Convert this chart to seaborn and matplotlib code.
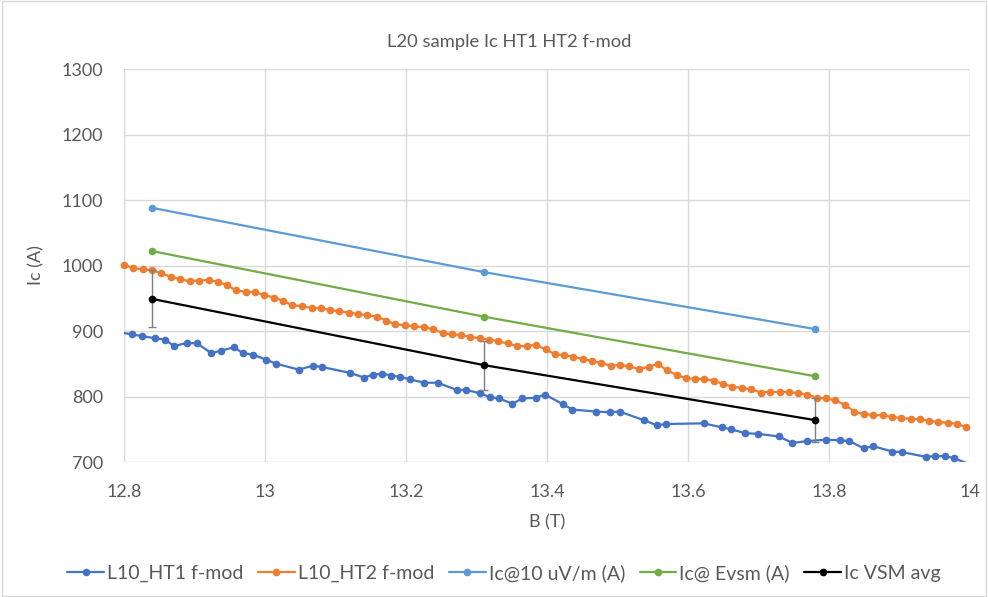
import matplotlib
matplotlib.use("Agg")
import matplotlib.pyplot as plt
import seaborn as sns
from matplotlib.patches import Rectangle

# ---- data -------------------------------------------------------------
ht1_b = [12.788, 12.811, 12.826, 12.844, 12.858, 12.871, 12.890, 12.904, 12.924, 12.937,
         12.956, 12.969, 12.983, 13.002, 13.016, 13.048, 13.068, 13.081, 13.121, 13.140,
         13.153, 13.166, 13.179, 13.192, 13.206, 13.226, 13.245, 13.272, 13.285, 13.305,
         13.319, 13.332, 13.351, 13.365, 13.384, 13.397, 13.423, 13.436, 13.470, 13.489,
         13.503, 13.537, 13.556, 13.569, 13.622, 13.648, 13.661, 13.681, 13.699, 13.729,
         13.748, 13.769, 13.796, 13.816, 13.829, 13.849, 13.863, 13.890, 13.904, 13.937,
         13.951, 13.964, 13.977, 14.010]
ht1_ic = [899, 895, 892, 889, 887, 877, 882, 881, 866, 870,
          875, 866, 864, 856, 850, 841, 847, 845, 836, 829,
          833, 835, 832, 830, 826, 821, 821, 810, 810, 805,
          799, 797, 789, 797, 798, 803, 788, 780, 777, 776,
          777, 764, 756, 758, 759, 753, 750, 744, 743, 739,
          729, 732, 734, 733, 732, 721, 724, 716, 715, 708,
          709, 709, 706, 692]

ht2_b = [12.800, 12.813, 12.827, 12.840, 12.853, 12.866, 12.880, 12.893, 12.906, 12.920,
         12.933, 12.946, 12.959, 12.973, 12.986, 12.999, 13.013, 13.026, 13.039, 13.052,
         13.066, 13.079, 13.092, 13.105, 13.119, 13.132, 13.145, 13.159, 13.172, 13.185,
         13.198, 13.212, 13.225, 13.238, 13.252, 13.265, 13.278, 13.291, 13.305, 13.318,
         13.331, 13.345, 13.358, 13.371, 13.384, 13.398, 13.411, 13.424, 13.437, 13.451,
         13.464, 13.477, 13.491, 13.504, 13.517, 13.530, 13.544, 13.557, 13.570, 13.584,
         13.597, 13.610, 13.623, 13.637, 13.650, 13.663, 13.677, 13.690, 13.703, 13.716,
         13.730, 13.743, 13.756, 13.769, 13.783, 13.796, 13.809, 13.823, 13.836, 13.849,
         13.862, 13.876, 13.889, 13.902, 13.916, 13.929, 13.942, 13.955, 13.969, 13.982,
         13.995]
ht2_ic = [1001, 996, 994, 993, 988, 983, 979, 976, 977, 978,
          975, 970, 962, 960, 959, 955, 951, 946, 939, 938,
          935, 935, 932, 930, 928, 926, 924, 922, 916, 910,
          909, 907, 906, 903, 897, 895, 894, 891, 889, 887,
          884, 881, 877, 877, 879, 872, 865, 863, 861, 857,
          854, 851, 847, 848, 846, 842, 845, 850, 840, 833,
          828, 827, 827, 824, 819, 815, 813, 811, 806, 807,
          807, 807, 805, 803, 798, 797, 794, 787, 777, 773,
          772, 771, 769, 767, 766, 765, 763, 761, 760, 758,
          753]

vsm_b = [12.84, 13.31, 13.78]
ic_10uv = [1088, 990, 903]
ic_evsm = [1022, 922, 831]
ic_vsm_avg = [949, 848, 764]
vsm_err_low = [43, 38, 33]
vsm_err_high = [44, 37, 34]

x_ticks = [12.8, 13.0, 13.2, 13.4, 13.6, 13.8, 14.0]
x_tick_labels = ["12.8", "13", "13.2", "13.4", "13.6", "13.8", "14"]
y_ticks = [700, 800, 900, 1000, 1100, 1200, 1300]

series_names = ["L10_HT1 f-mod", "L10_HT2 f-mod", "Ic@10 uV/m (A)", "Ic@ Evsm (A)", "Ic VSM avg"]
series_colors = ["#4472C4", "#ED7D31", "#5B9BD5", "#70AD47", "#000000"]

# ---- style ------------------------------------------------------------
sns.set_theme(style="white")
plt.rcParams["font.family"] = ["Lato", "DejaVu Sans"]
text_grey = "#595959"
grid_grey = "#D9D9D9"

fig = plt.figure(figsize=(9.88, 5.97), dpi=100)
ax = fig.add_axes([124 / 988, 1 - 462 / 597, (970 - 124) / 988, (462 - 69) / 597])

lw = 1.6
ms = 5.5

def draw(x, y, idx, clip=True, z=2):
    n_before = len(ax.lines)
    sns.lineplot(x=x, y=y, ax=ax, sort=False, estimator=None, color=series_colors[idx],
                 linewidth=lw, marker="o", markersize=ms, markeredgewidth=0,
                 label=series_names[idx], legend=False)
    for ln in ax.lines[n_before:]:
        ln.set_clip_on(clip)
        ln.set_zorder(z)
        ln.set_label(series_names[idx])

draw(ht1_b, ht1_ic, 0, clip=True, z=2)
draw(ht2_b, ht2_ic, 1, clip=False, z=2.1)
draw(vsm_b, ic_10uv, 2, z=2.2)
draw(vsm_b, ic_evsm, 3, z=2.3)
ax.errorbar(vsm_b, ic_vsm_avg, yerr=[vsm_err_low, vsm_err_high], fmt="none",
            ecolor="#7F7F7F", elinewidth=1.0, capsize=3.2, capthick=1.0, zorder=2.35)
draw(vsm_b, ic_vsm_avg, 4, z=2.4)

ax.set_xlim(12.8, 14.0)
ax.set_ylim(700, 1300)
ax.set_xticks(x_ticks)
ax.set_xticklabels(x_tick_labels)
ax.set_yticks(y_ticks)
ax.grid(True, color=grid_grey, linewidth=1.0)
ax.set_axisbelow(True)
for s in ax.spines.values():
    s.set_visible(False)
ax.tick_params(axis="both", length=0, labelsize=13, colors=text_grey)
ax.tick_params(axis="y", pad=15)
ax.tick_params(axis="x", pad=15.5)

ax.set_xlabel("B (T)", fontsize=13, color=text_grey, labelpad=11)
ax.set_ylabel("Ic (A)", fontsize=13, color=text_grey, labelpad=12)
fig.text(509 / 988, 1 - 42 / 597, "L20 sample Ic HT1 HT2 f-mod",
         ha="center", va="center", fontsize=13.2, color=text_grey)

handles = [h for h in ax.lines if h.get_label() in series_names]
seen = {}
for h in handles:
    seen.setdefault(h.get_label(), h)
leg = fig.legend([seen[n] for n in series_names], series_names, loc="center",
                 bbox_to_anchor=(504 / 988, 1 - 573 / 597), ncol=5, frameon=False,
                 fontsize=14, handlelength=1.9, handletextpad=0.15, columnspacing=0.75)
for t in leg.get_texts():
    t.set_color(text_grey)

# chart-area border
fig.patches.append(Rectangle((0.002, 0.002), 0.996, 0.996, transform=fig.transFigure,
                             fill=False, edgecolor=grid_grey, linewidth=1.0))

fig.savefig("out.png", dpi=100)
